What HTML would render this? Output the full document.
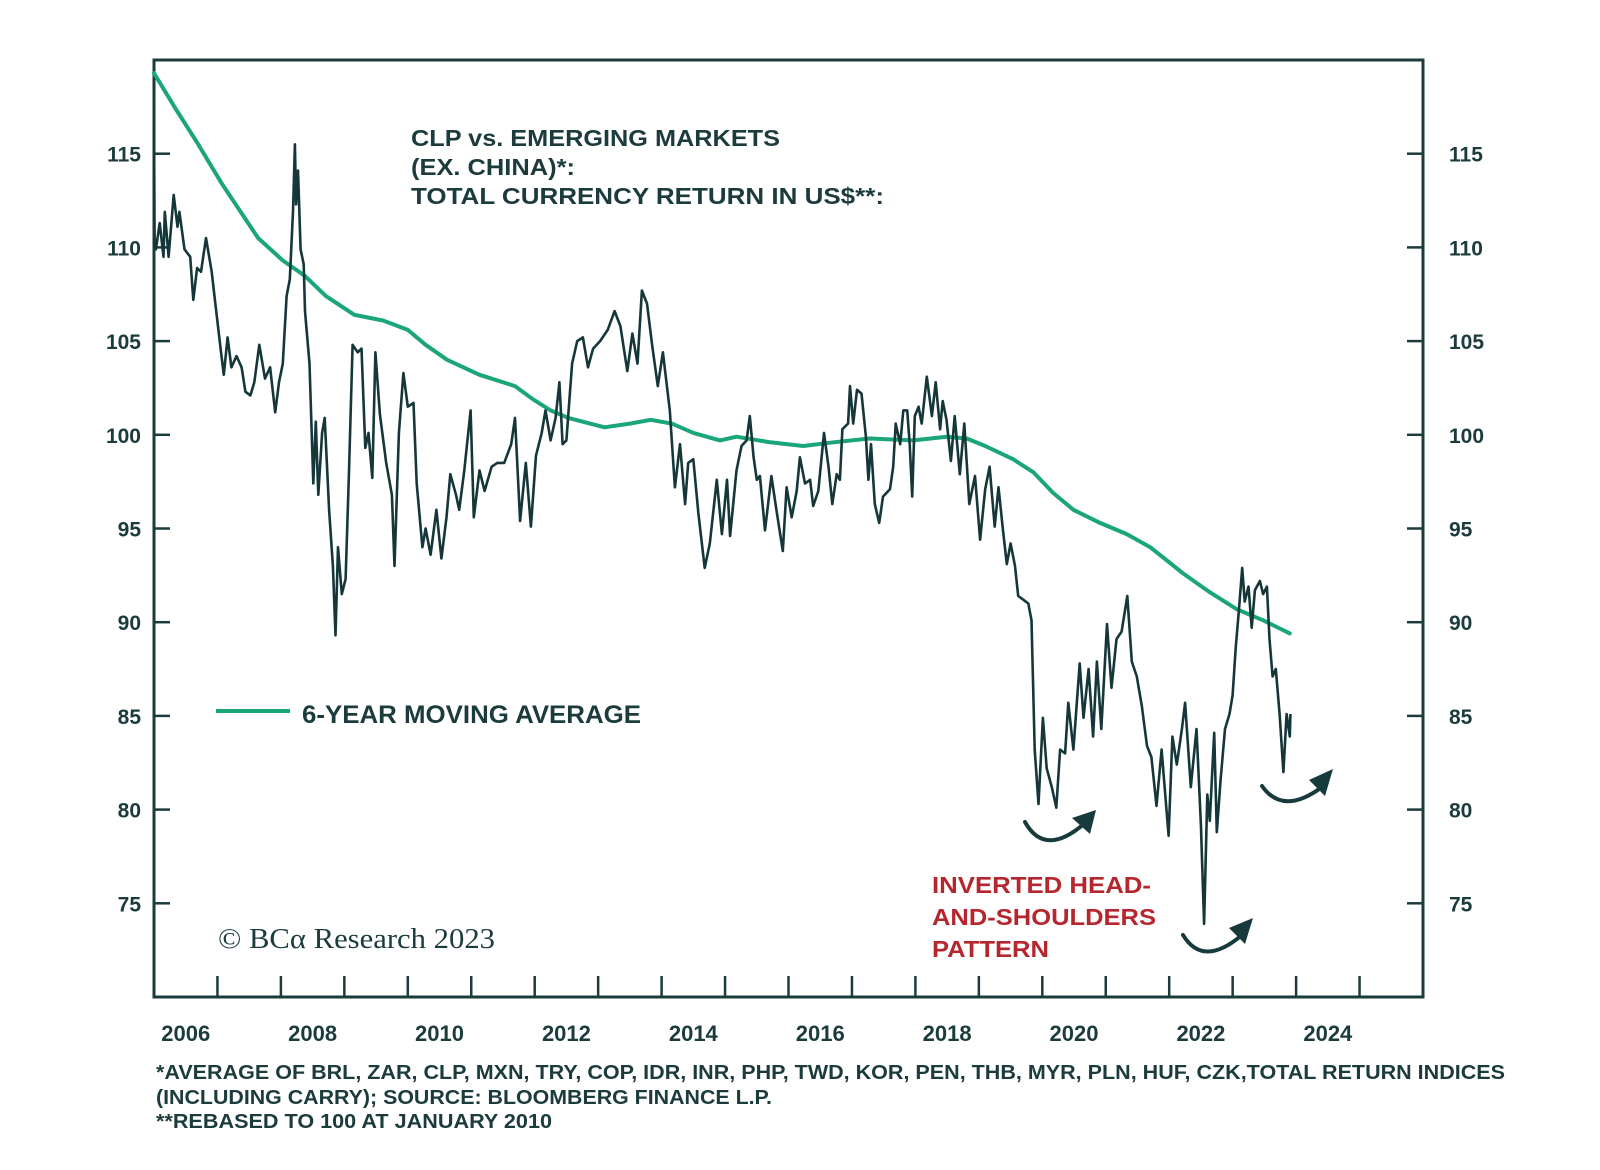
<!DOCTYPE html>
<html><head><meta charset="utf-8"><style>
html,body{margin:0;padding:0;background:#fff;width:1600px;height:1170px;overflow:hidden}
svg{display:block}
text{font-family:"Liberation Sans",sans-serif;fill:#1b3b3d}
</style></head><body>
<svg id="chart" width="1600" height="1170" viewBox="0 0 1600 1170" xmlns="http://www.w3.org/2000/svg">
<g id="axes"></g>
<g id="series"></g>
<text x="411" y="146" font-size="23" font-weight="bold" textLength="369" lengthAdjust="spacingAndGlyphs">CLP vs. EMERGING MARKETS</text>
<text x="411" y="175" font-size="23" font-weight="bold" textLength="164" lengthAdjust="spacingAndGlyphs">(EX. CHINA)*:</text>
<text x="411" y="204" font-size="23" font-weight="bold" textLength="473" lengthAdjust="spacingAndGlyphs">TOTAL CURRENCY RETURN IN US$**:</text>
<line x1="216" y1="711" x2="290" y2="711" stroke="#1aa57b" stroke-width="4"/>
<text x="302" y="723" font-size="25" font-weight="bold" textLength="339" lengthAdjust="spacingAndGlyphs">6-YEAR MOVING AVERAGE</text>
<text x="218" y="948" font-size="28" font-family="Liberation Serif, serif" style="font-family:'Liberation Serif',serif" textLength="277" lengthAdjust="spacingAndGlyphs">© BCα Research 2023</text>
<g fill="#b5262e">
<text x="932" y="893" font-size="23" font-weight="bold" style="fill:#b5262e" textLength="219" lengthAdjust="spacingAndGlyphs">INVERTED HEAD-</text>
<text x="932" y="925" font-size="23" font-weight="bold" style="fill:#b5262e" textLength="224" lengthAdjust="spacingAndGlyphs">AND-SHOULDERS</text>
<text x="932" y="957" font-size="23" font-weight="bold" style="fill:#b5262e" textLength="117" lengthAdjust="spacingAndGlyphs">PATTERN</text>
</g>
<g fill="none" stroke="#173a3c" stroke-width="4" stroke-linecap="round">
<path d="M1025 822 Q1045 858 1085 823"/>
<polygon points="1096,810 1072,818 1090,834" fill="#173a3c" stroke="none"/>
<path d="M1183 935 Q1203 968 1242 935"/>
<polygon points="1253,918 1229,928 1245,944" fill="#173a3c" stroke="none"/>
<path d="M1262 786 Q1283 816 1322 787"/>
<polygon points="1333,769 1309,780 1325,796" fill="#173a3c" stroke="none"/>
</g>
<g>
<text x="156" y="1079" font-size="20" font-weight="bold" textLength="1349" lengthAdjust="spacingAndGlyphs">*AVERAGE OF BRL, ZAR, CLP, MXN, TRY, COP, IDR, INR, PHP, TWD, KOR, PEN, THB, MYR, PLN, HUF, CZK,TOTAL RETURN INDICES</text>
<text x="156" y="1104" font-size="20" font-weight="bold" textLength="616" lengthAdjust="spacingAndGlyphs">(INCLUDING CARRY); SOURCE: BLOOMBERG FINANCE L.P.</text>
<text x="156" y="1128" font-size="20" font-weight="bold" textLength="396" lengthAdjust="spacingAndGlyphs">**REBASED TO 100 AT JANUARY 2010</text>
</g>
</svg>
<script>
const dates=[2006.0,2006.01,2006.03,2006.09,2006.15,2006.17,2006.23,2006.31,2006.37,2006.40,2006.48,2006.57,2006.62,2006.68,2006.74,2006.82,2006.91,2006.96,2007.05,2007.10,2007.16,2007.22,2007.30,2007.38,2007.44,2007.52,2007.58,2007.66,2007.75,2007.83,2007.91,2007.97,2008.03,2008.09,2008.14,2008.19,2008.22,2008.24,2008.27,2008.31,2008.36,2008.38,2008.45,2008.51,2008.55,2008.59,2008.65,2008.69,2008.76,2008.82,2008.86,2008.90,2008.96,2009.02,2009.07,2009.13,2009.21,2009.27,2009.33,2009.38,2009.44,2009.49,2009.56,2009.66,2009.75,2009.79,2009.86,2009.93,2010.00,2010.09,2010.14,2010.23,2010.28,2010.36,2010.45,2010.53,2010.61,2010.67,2010.76,2010.81,2010.89,2010.99,2011.04,2011.13,2011.21,2011.32,2011.41,2011.52,2011.63,2011.69,2011.77,2011.86,2011.94,2012.02,2012.11,2012.17,2012.25,2012.33,2012.39,2012.44,2012.50,2012.59,2012.67,2012.76,2012.84,2012.92,2013.03,2013.15,2013.26,2013.35,2013.46,2013.54,2013.62,2013.69,2013.77,2013.85,2013.94,2014.02,2014.13,2014.21,2014.29,2014.37,2014.42,2014.50,2014.58,2014.68,2014.76,2014.87,2014.95,2015.03,2015.08,2015.18,2015.26,2015.34,2015.39,2015.45,2015.50,2015.55,2015.63,2015.73,2015.81,2015.91,2015.97,2016.05,2016.13,2016.18,2016.26,2016.34,2016.39,2016.47,2016.56,2016.63,2016.69,2016.76,2016.81,2016.85,2016.94,2016.97,2017.02,2017.08,2017.15,2017.22,2017.26,2017.30,2017.36,2017.43,2017.49,2017.60,2017.65,2017.69,2017.76,2017.81,2017.87,2017.91,2017.95,2017.99,2018.05,2018.10,2018.18,2018.26,2018.32,2018.39,2018.43,2018.49,2018.56,2018.62,2018.70,2018.77,2018.85,2018.94,2019.02,2019.10,2019.17,2019.25,2019.31,2019.38,2019.44,2019.50,2019.57,2019.62,2019.70,2019.78,2019.83,2019.88,2019.94,2020.01,2020.07,2020.15,2020.22,2020.28,2020.36,2020.41,2020.49,2020.59,2020.65,2020.73,2020.80,2020.86,2020.93,2021.02,2021.09,2021.17,2021.25,2021.34,2021.41,2021.49,2021.57,2021.65,2021.72,2021.80,2021.88,2021.99,2022.05,2022.12,2022.20,2022.25,2022.34,2022.43,2022.50,2022.55,2022.60,2022.64,2022.71,2022.75,2022.81,2022.88,2022.95,2023.00,2023.05,2023.10,2023.15,2023.19,2023.25,2023.30,2023.35,2023.43,2023.48,2023.54,2023.58,2023.63,2023.68,2023.74,2023.80,2023.85,2023.90,2023.91];
const values=[116.5,110.5,109.9,111.3,109.5,111.9,109.5,112.8,111.1,111.9,109.9,109.5,107.2,108.9,108.7,110.5,108.7,107.2,104.6,103.2,105.2,103.6,104.2,103.6,102.3,102.1,102.8,104.8,103.0,103.6,101.2,102.8,103.8,107.4,108.3,111.9,115.5,112.3,114.1,109.9,109.1,106.6,103.8,97.4,100.7,96.8,100.1,100.9,96.0,93.0,89.3,94.0,91.5,92.3,97.7,104.8,104.4,104.6,99.3,100.1,97.7,104.4,101.1,98.5,96.8,93.0,100.1,103.3,101.5,101.7,97.4,94.0,95.0,93.6,96.0,93.4,95.6,97.9,96.8,96.0,98.1,101.3,95.6,98.1,97.0,98.3,98.5,98.5,99.5,100.9,95.4,98.5,95.1,98.9,100.1,101.3,99.7,100.9,102.8,99.5,99.7,103.8,105.0,105.2,103.6,104.6,105.0,105.6,106.6,105.8,103.4,105.4,103.8,107.7,107.0,104.8,102.6,104.4,101.3,97.2,99.5,96.3,98.5,98.7,95.8,92.9,94.2,97.6,94.7,97.6,94.6,98.1,99.4,99.7,101.0,98.8,97.6,97.8,94.9,97.8,96.0,93.8,97.2,95.6,97.0,98.8,97.4,97.6,96.2,97.0,100.1,98.3,96.3,97.9,97.6,100.3,100.6,102.6,100.6,102.4,102.2,99.9,97.6,99.5,96.3,95.3,96.7,97.1,98.3,100.6,99.5,101.3,101.3,99.5,96.7,101.0,101.5,100.6,103.1,101.0,102.8,100.3,101.8,100.8,98.6,101.0,97.9,100.6,96.3,97.8,94.4,97.1,98.3,95.1,97.2,94.9,93.1,94.2,93.0,91.4,91.2,91.0,90.1,83.2,80.3,84.9,82.2,81.2,80.1,83.2,83.0,85.7,83.2,87.8,84.9,87.5,83.9,87.9,84.3,89.9,86.5,89.1,89.5,91.4,87.9,87.1,85.5,83.4,82.8,80.2,83.2,78.6,83.9,82.4,84.3,85.7,81.2,84.3,79.2,73.9,80.8,79.4,84.1,78.8,81.6,84.3,85.1,86.1,88.7,90.7,92.9,91.1,91.9,89.7,91.7,92.2,91.5,91.9,89.1,87.1,87.5,85.1,82.0,85.1,83.9,85.1];
const maDates=[2006.0,2006.34,2006.68,2007.07,2007.64,2008.03,2008.37,2008.71,2009.16,2009.61,2010.0,2010.28,2010.62,2011.13,2011.69,2011.97,2012.25,2012.53,2013.1,2013.5,2013.83,2014.16,2014.5,2014.92,2015.18,2015.71,2016.23,2016.71,2017.28,2017.97,2018.49,2018.81,2019.1,2019.54,2019.86,2020.17,2020.49,2020.91,2021.33,2021.7,2022.22,2022.64,2023.06,2023.48,2023.9];
const maValues=[119.3,117.4,115.6,113.4,110.5,109.3,108.5,107.4,106.4,106.1,105.6,104.8,104.0,103.2,102.6,101.9,101.3,100.9,100.4,100.6,100.8,100.6,100.1,99.7,99.9,99.6,99.4,99.6,99.8,99.7,99.9,99.8,99.4,98.7,98.0,96.9,96.0,95.3,94.7,94.0,92.6,91.6,90.7,90.1,89.4];
const yTicks=[75,80,85,90,95,100,105,110,115];
const yTickLabels=["75","80","85","90","95","100","105","110","115"];
const xLabels=["2006","2008","2010","2012","2014","2016","2018","2020","2022","2024"];
const xLabelYears=[2006,2008,2010,2012,2014,2016,2018,2020,2022,2024];

const X0=154,X1=1423,Y0=60,Y1=997,XMIN=2006,XMAX=2026,YMIN=70,YMAX=120;
function sx(t){return X0+(t-XMIN)/(XMAX-XMIN)*(X1-X0);}
function sy(v){return Y1-(v-YMIN)/(YMAX-YMIN)*(Y1-Y0);}
const NS="http://www.w3.org/2000/svg";
const axes=document.getElementById('axes');
const series=document.getElementById('series');
function mk(tag,attrs,parent){const e=document.createElementNS(NS,tag);for(const k in attrs)e.setAttribute(k,attrs[k]);parent.appendChild(e);return e;}
const C="#1b3b3d";
const frame=mk('rect',{x:X0,y:Y0,width:X1-X0,height:Y1-Y0,fill:'none',stroke:C,'stroke-width':3},axes);


yTicks.forEach((v,i)=>{
  const y=sy(v);
  const tl=mk('line',{x1:X0,x2:X0+16,y1:y,y2:y,stroke:C,'stroke-width':2.5},axes);
  
  
  const tr=mk('line',{x1:X1-16,x2:X1,y1:y,y2:y,stroke:C,'stroke-width':2.5},axes);
  
  
  const a=mk('text',{x:141,y:y+8,'text-anchor':'end','font-size':21,'font-weight':'bold'},axes);
  a.textContent=yTickLabels[i];
  
  
  const b=mk('text',{x:1449,y:y+8,'text-anchor':'start','font-size':21,'font-weight':'bold'},axes);
  b.textContent=yTickLabels[i];
  
  
});
for(let yr=XMIN+1;yr<XMAX;yr++){
  const x=sx(yr);
  const t=mk('line',{x1:x,x2:x,y1:Y1-21,y2:Y1,stroke:C,'stroke-width':2.5},axes);
  
  
}
xLabels.forEach((l,i)=>{
  const t=mk('text',{x:sx(xLabelYears[i]+0.5),y:1041,'text-anchor':'middle','font-size':22,'font-weight':'bold'},axes);
  t.textContent=l;
  
  
});
const ma=mk('path',{d:maDates.map((d,i)=>(i?'L':'M')+sx(d).toFixed(1)+' '+sy(maValues[i]).toFixed(1)).join(' '),fill:'none',stroke:'#1aa57b','stroke-width':4,'stroke-linejoin':'round','stroke-linecap':'round'},series);


const ln=mk('path',{d:dates.map((d,i)=>(i?'L':'M')+sx(d).toFixed(1)+' '+sy(values[i]).toFixed(1)).join(' '),fill:'none',stroke:'#15373a','stroke-width':2.6,'stroke-linejoin':'round'},series);


</script>
</body></html>
